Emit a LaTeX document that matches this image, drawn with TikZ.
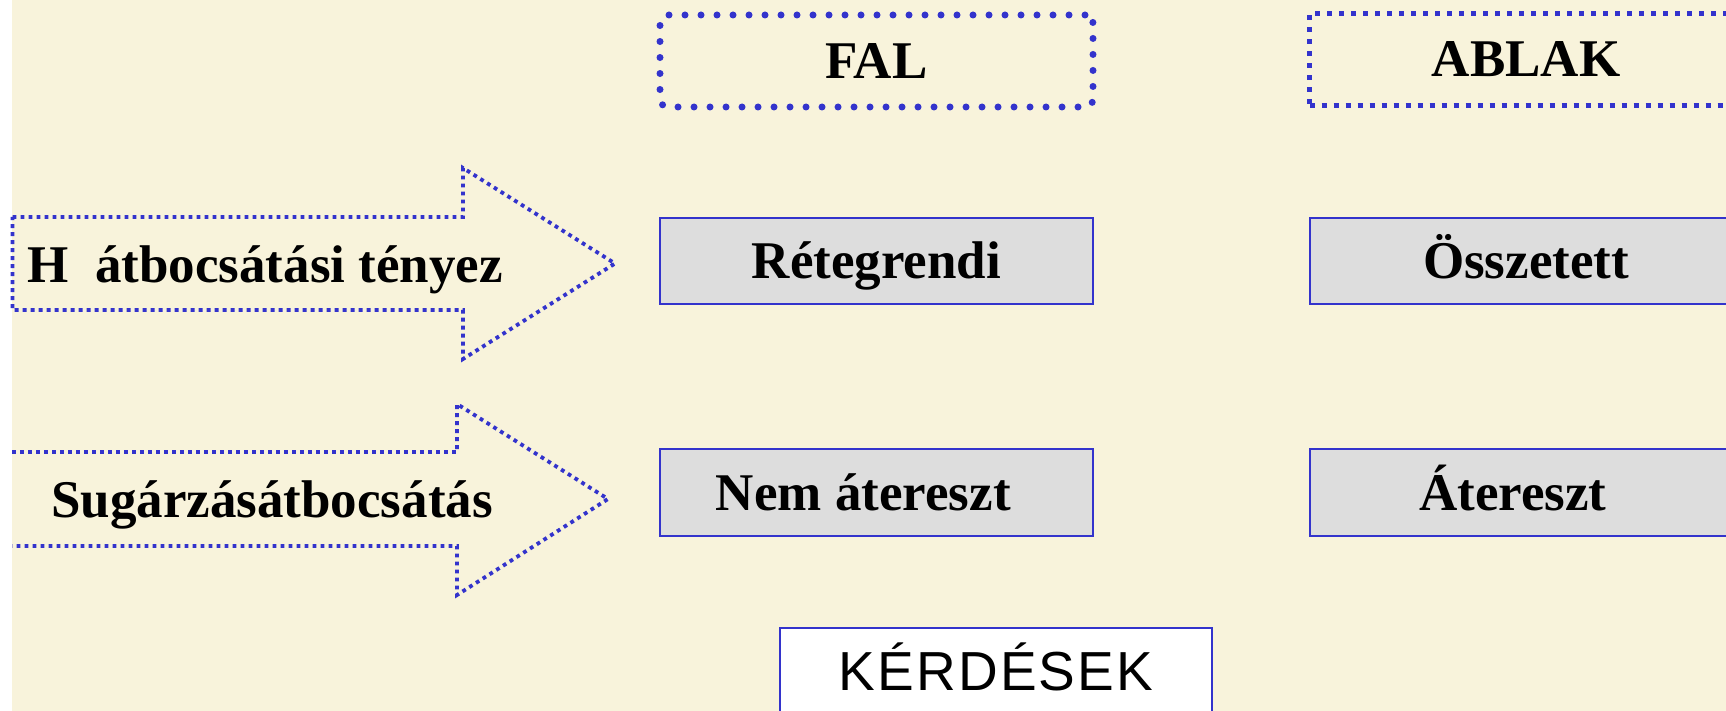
\documentclass[tikz,border=0pt]{standalone}
\usepackage{fontspec}
\setmainfont{Liberation Serif}
\newfontfamily\askfont[LetterSpace=4]{Liberation Sans}
\definecolor{slidebg}{RGB}{248,243,219}
\definecolor{rimblue}{RGB}{51,51,204}
\definecolor{boxgray}{RGB}{221,221,221}
\begin{document}
\begin{tikzpicture}[x=0.5pt,y=-0.5pt,
  label/.style={font=\bfseries\fontsize{26.5}{30}\selectfont, text height=17.5pt, text depth=0pt, inner sep=0pt},
  headbox/.style={label, minimum width=216.5pt, minimum height=46pt},
  falbox/.style={headbox, draw=rimblue, line width=3.5pt, line cap=round, dash pattern=on 0pt off 8pt, rounded corners=4pt},
  ablakbox/.style={headbox, draw=rimblue, line width=2.5pt, dash pattern=on 2.5pt off 3.5pt},
  graybox/.style={label, minimum width=216.5pt, minimum height=43pt, fill=boxgray, draw=rimblue, line width=1pt},
  askbox/.style={font=\askfont\fontsize{27.5}{30}\selectfont, text height=19.7pt, text depth=0pt, inner sep=0pt,
    minimum width=216pt, minimum height=43pt, fill=white, draw=rimblue, line width=1pt},
  arrowline/.style={draw=rimblue, line width=1.9pt, dash pattern=on 1.9pt off 2.1pt}]
\useasboundingbox (0,0) rectangle (1726,711);
\clip (0,0) rectangle (1726,711);
% page and slide background
\fill[white] (0,0) rectangle (1726,711);
\fill[slidebg] (12,0) rectangle (1726,711);

% column headers
\node[falbox]   (fal)   at (876.5,61) {FAL};
\node[ablakbox] (ablak) at (1526,59.5) {ABLAK};

% property boxes
\node[graybox] (retegrendi) at (876.5,261)  {Rétegrendi};
\node[graybox] (osszetett)  at (1526,261)   {Összetett};
\node[graybox] (nematersz)  at (876.5,492.5) {Nem átereszt\phantom{ő}};
\node[graybox] (atersz)     at (1526,492.5)  {Átereszt\phantom{ő}};

% block arrows
\draw[arrowline] (12.5,217) -- (463,217) -- (463,168) -- (615,263.5) -- (463,359) -- (463,310) -- (12.5,310) -- cycle;
\node[label, anchor=west] (heat) at (27,265) {H\phantom{ő}átbocsátási tényez\phantom{ő}};
\draw[arrowline] (12,452) -- (457,452) -- (457,404) -- (608,499) -- (457,595) -- (457,546) -- (12,546);
\node[label] (rad) at (272,499.5) {Sugárzásátbocsátás};

% questions button
\node[askbox] (questions) at (996,671) {KÉRDÉSEK};
\end{tikzpicture}
\end{document}
